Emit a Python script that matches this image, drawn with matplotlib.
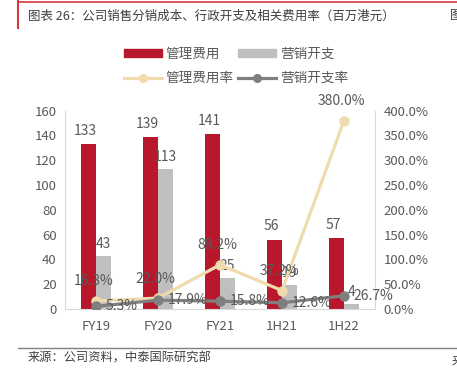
import matplotlib.pyplot as plt
import numpy as np
from matplotlib.lines import Line2D
from matplotlib.patches import Patch

plt.rcParams['font.family'] = ['Noto Sans CJK SC', 'DejaVu Sans']

# data
categories = ['FY19', 'FY20', 'FY21', '1H21', '1H22']
admin_cost = [133, 139, 141, 56, 57]          # 管理费用
selling_cost = [43, 113, 25, 19, 4]           # 营销开支
admin_rate = [16.3, 22.0, 89.2, 37.2, 380.0]  # 管理费用率 (%)
selling_rate = [5.3, 17.9, 15.8, 12.6, 26.7]  # 营销开支率 (%)

red = '#B8172C'
grey_bar = '#BFBFBF'
tan = '#EFDBAE'
grey_line = '#7F7F7F'
txt = '#595959'
spine_c = '#D9D9D9'

fig = plt.figure(figsize=(4.57, 3.73), dpi=100)
W, H = 457, 373

# header / footer decorations
fig.add_artist(Line2D([18 / W, 1], [1 - 1.5 / H, 1 - 1.5 / H], color='#D9383F', lw=1.2))
fig.add_artist(Line2D([18 / W, 18 / W], [1 - 1 / H, 1 - 28 / H], color='#D9383F', lw=1.5))
fig.text(28 / W, 1 - 16 / H, '图表 26：公司销售分销成本、行政开支及相关费用率（百万港元）',
         fontsize=9.0, color='#404040', va='center', ha='left')
fig.text(450 / W, 1 - 16 / H, '图', fontsize=9.0, color='#404040', va='center', ha='left')
fig.add_artist(Line2D([18 / W, 1], [1 - 348 / H, 1 - 348 / H], color='#808080', lw=1.0))
fig.text(28 / W, 1 - 358 / H, '来源：公司资料，中泰国际研究部',
         fontsize=8.8, color='#404040', va='center', ha='left')
fig.text(452 / W, 1 - 362 / H, '来', fontsize=8.8, color='#404040', va='center', ha='left')

ax = fig.add_axes([65 / W, 1 - 309 / H, 310 / W, (309 - 110.7) / H])
x = np.arange(len(categories))
bw = 0.235
b1 = ax.bar(x - bw / 2, admin_cost, bw, color=red)
b2 = ax.bar(x + bw / 2, selling_cost, bw, color=grey_bar)
for rect, v in zip(b1, admin_cost):
    ax.text(rect.get_x() + rect.get_width() / 2 - 0.06, v + 5, str(v), ha='center', va='bottom',
            fontsize=10, color=txt)
for rect, v in zip(b2, selling_cost):
    ax.text(rect.get_x() + rect.get_width() / 2, v + 4, str(v), ha='center', va='bottom',
            fontsize=10, color=txt)

ax.set_xlim(-0.5, len(categories) - 0.5)
ax.set_ylim(0, 160)
ax.set_yticks(range(0, 161, 20))
ax.set_xticks(x)
ax.set_xticklabels(categories)
ax.tick_params(axis='both', colors=txt, labelsize=9.5, length=0)
ax.tick_params(axis='x', pad=8)
ax.tick_params(axis='y', pad=6)
for s in ['top', 'right']:
    ax.spines[s].set_visible(False)
for s in ['left', 'bottom']:
    ax.spines[s].set_color(spine_c)

ax2 = ax.twinx()
ax2.plot(x, admin_rate, color=tan, lw=2.3, marker='o', ms=6.5, zorder=3)
ax2.plot(x, selling_rate, color=grey_line, lw=2.3, marker='o', ms=6.5, zorder=4)
ax2.set_ylim(0, 400)
ax2.set_yticks(range(0, 401, 50))
ax2.set_yticklabels([f'{v:.1f}%' for v in range(0, 401, 50)])
ax2.tick_params(axis='y', colors=txt, labelsize=9.5, length=0, pad=6)
for s in ['top', 'left', 'bottom']:
    ax2.spines[s].set_visible(False)
ax2.spines['right'].set_color(spine_c)

for xi, v in zip(x, admin_rate):
    ax2.annotate(f'{v:.1f}%', (xi, v), xytext=(-2, 9), textcoords='offset points',
                 ha='center', va='bottom', fontsize=10, color=txt, zorder=6)
for xi, v in zip(x, selling_rate):
    ax2.annotate(f'{v:.1f}%', (xi, v), xytext=(7, 0), textcoords='offset points',
                 ha='left', va='center', fontsize=10, color=txt, zorder=6)

handles = [Patch(color=red),
           Line2D([], [], color=tan, lw=2.3, marker='o', ms=5.5),
           Patch(color=grey_bar),
           Line2D([], [], color=grey_line, lw=2.3, marker='o', ms=5.5)]
labels = ['管理费用', '管理费用率', '营销开支', '营销开支率']
fig.legend(handles, labels, loc='center', bbox_to_anchor=(236 / W, 1 - 66 / H), ncol=2,
           frameon=False, fontsize=9.8, labelcolor=txt, handlelength=2.8, handleheight=0.6,
           handletextpad=0.3, columnspacing=0.3, labelspacing=0.75)

fig.savefig('out.png', dpi=100)
